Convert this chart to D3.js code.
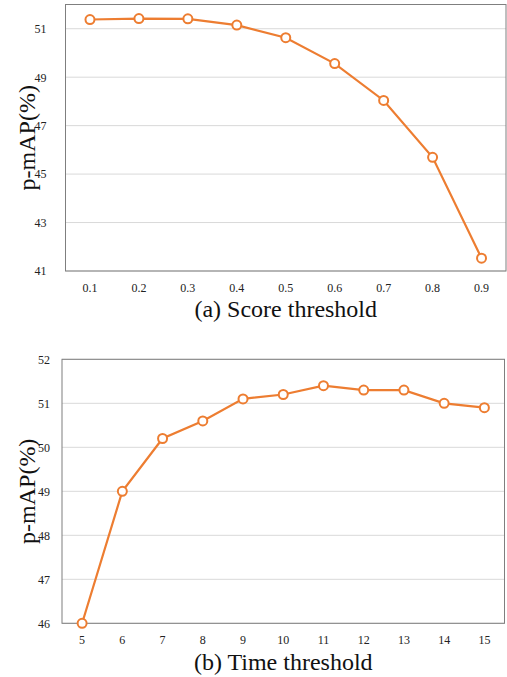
<!DOCTYPE html>
<html>
<head>
<meta charset="utf-8">
<script src="https://cdn.jsdelivr.net/npm/d3@7"></script>
<style>
  body { margin: 0; background: #fff; }
  svg, svg text { font-family: "Liberation Serif", "Times New Roman", serif !important; }
</style>
</head>
<body>
<div id="viz-container"></div>
<script>
const width = 507, height = 677;

// Données
const scoreThresholds = ["0.1", "0.2", "0.3", "0.4", "0.5", "0.6", "0.7", "0.8", "0.9"];
const scoreMAP = [51.38, 51.42, 51.41, 51.15, 50.63, 49.56, 48.04, 45.69, 41.53];
const scoreTicks = [41, 43, 45, 47, 49, 51];

const timeThresholds = ["5", "6", "7", "8", "9", "10", "11", "12", "13", "14", "15"];
const timeMAP = [46.0, 49.0, 50.2, 50.6, 51.1, 51.2, 51.4, 51.3, 51.3, 51.0, 50.9];
const timeTicks = [46, 47, 48, 49, 50, 51, 52];

const orange = "#ed7d31";

const svg = d3.select("#viz-container")
  .append("svg")
  .attr("width", width)
  .attr("height", height);

function drawPanel(cfg) {
  const x = d3.scaleBand()
    .domain(cfg.cats)
    .range([cfg.left, cfg.right]);

  const y = d3.scaleLinear()
    .domain(cfg.yDomain)
    .range([cfg.bottom, cfg.top]);

  const g = svg.append("g");

  // Grille horizontale
  g.selectAll(".grid")
    .data(cfg.ticks)
    .join("line")
    .attr("x1", cfg.left)
    .attr("x2", cfg.right)
    .attr("y1", d => y(d))
    .attr("y2", d => y(d))
    .attr("stroke", "#d9d9d9")
    .attr("stroke-width", 1);

  // Cadre
  g.append("rect")
    .attr("x", cfg.left)
    .attr("y", cfg.top)
    .attr("width", cfg.right - cfg.left)
    .attr("height", cfg.bottom - cfg.top)
    .attr("fill", "none")
    .attr("stroke", "#7f7f7f")
    .attr("stroke-width", 1);

  // Axes
  const ay = g.append("g")
    .attr("transform", `translate(${cfg.left - cfg.yLabelGap},0)`)
    .call(d3.axisLeft(y).tickValues(cfg.ticks).tickFormat(d3.format("d")).tickSize(0).tickPadding(0));
  ay.select(".domain").remove();
  ay.selectAll("text").attr("font-size", 12).attr("fill", "#222");

  const ax = g.append("g")
    .attr("transform", `translate(0,${cfg.bottom})`)
    .call(d3.axisBottom(x).tickSize(0).tickPadding(cfg.xLabelGap));
  ax.select(".domain").remove();
  ax.selectAll("text").attr("font-size", 12).attr("fill", "#222");

  // Courbe
  const line = d3.line()
    .x((d, i) => x(cfg.cats[i]) + x.bandwidth() / 2)
    .y(d => y(d));

  g.append("path")
    .datum(cfg.values)
    .attr("d", line)
    .attr("fill", "none")
    .attr("stroke", orange)
    .attr("stroke-width", 2.2);

  g.selectAll(".pt")
    .data(cfg.values)
    .join("circle")
    .attr("cx", (d, i) => x(cfg.cats[i]) + x.bandwidth() / 2)
    .attr("cy", d => y(d))
    .attr("r", 4.5)
    .attr("fill", "#fff")
    .attr("stroke", orange)
    .attr("stroke-width", 2);

  // Labels
  g.append("text")
    .attr("transform", `translate(${cfg.yTitleX},${(cfg.top + cfg.bottom) / 2}) rotate(-90)`)
    .attr("text-anchor", "middle")
    .attr("font-size", 24)
    .attr("fill", "#111")
    .text("p-mAP(%)");

  g.append("text")
    .attr("x", (cfg.left + cfg.right) / 2)
    .attr("y", cfg.titleY)
    .attr("text-anchor", "middle")
    .attr("font-size", 24)
    .attr("fill", "#111")
    .text(cfg.title);
}

drawPanel({
  cats: scoreThresholds, values: scoreMAP, ticks: scoreTicks, yDomain: [41, 52],
  left: 65.5, right: 506, top: 4.5, bottom: 271,
  yLabelGap: 19, xLabelGap: 12, yTitleX: 35, titleY: 317,
  title: "(a) Score threshold"
});

drawPanel({
  cats: timeThresholds, values: timeMAP, ticks: timeTicks, yDomain: [46, 52],
  left: 62, right: 504.5, top: 359.3, bottom: 623.3,
  yLabelGap: 12, xLabelGap: 12, yTitleX: 35, titleY: 670,
  title: "(b) Time threshold"
});
</script>
</body>
</html>
